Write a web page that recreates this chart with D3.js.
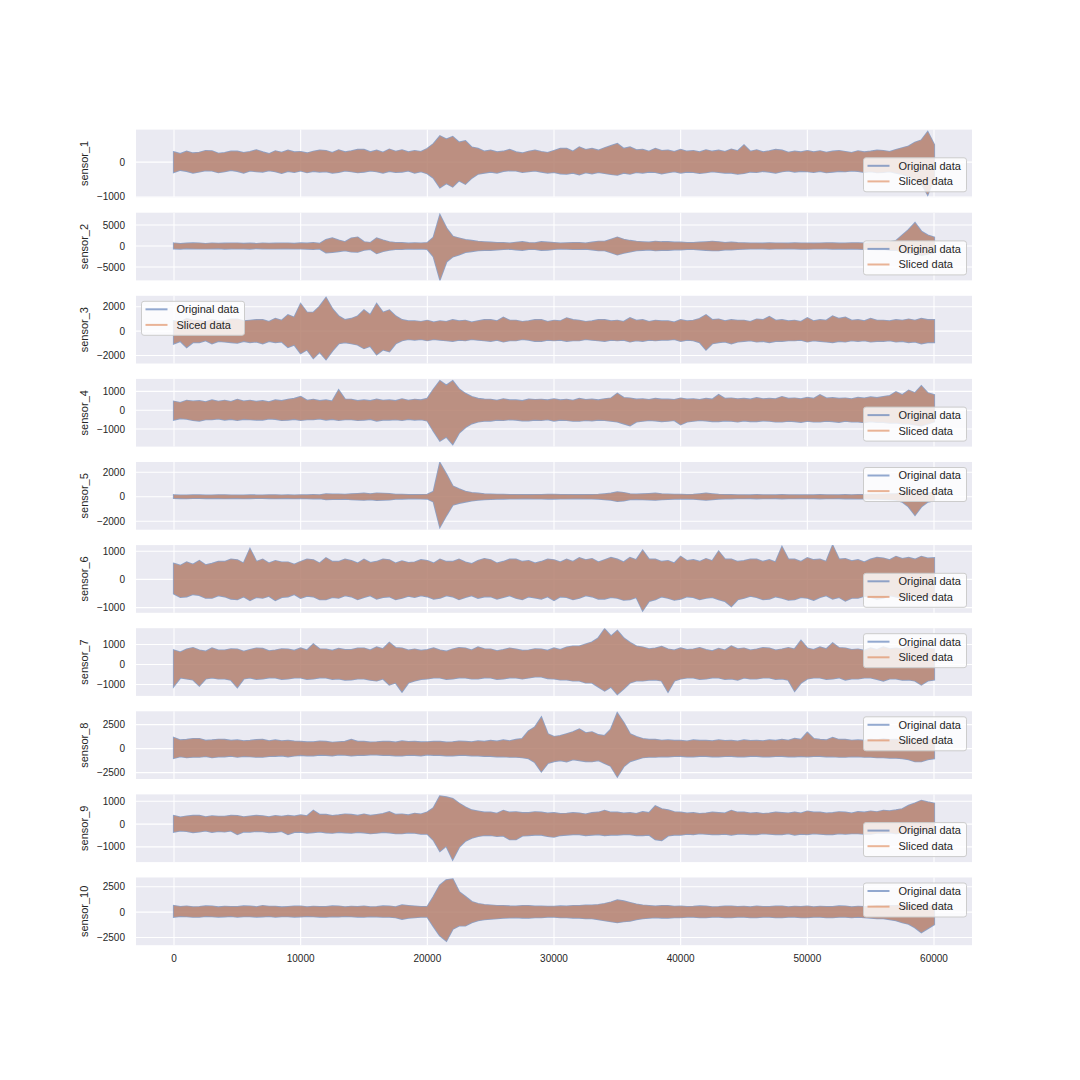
<!DOCTYPE html>
<html>
<head>
<meta charset="utf-8">
<script src="https://cdn.jsdelivr.net/npm/d3@7/dist/d3.min.js"></script>
<style>
  body { margin: 0; background: #fff; }
  text { font-family: "Liberation Sans", Arial, sans-serif; fill: #262626; }
</style>
</head>
<body>
<div id="chart"></div>
<script>
// sample positions (every 500 samples)
var samples = [0,500,1000,1500,2000,2500,3000,3500,4000,4500, 5000,5500,6000,6500,7000,7500,8000,8500,9000,9500,
  10000,10500,11000,11500,12000,12500,13000,13500,14000,14500, 15000,15500,16000,16500,17000,17500,18000,18500,19000,19500,
  20000,20500,21000,21500,22000,22500,23000,23500,24000,24500, 25000,25500,26000,26500,27000,27500,28000,28500,29000,29500,
  30000,30500,31000,31500,32000,32500,33000,33500,34000,34500, 35000,35500,36000,36500,37000,37500,38000,38500,39000,39500,
  40000,40500,41000,41500,42000,42500,43000,43500,44000,44500, 45000,45500,46000,46500,47000,47500,48000,48500,49000,49500,
  50000,50500,51000,51500,52000,52500,53000,53500,54000,54500, 55000,55500,56000,56500,57000,57500,58000,58500,59000,59500,
  60000];

var sensorNames = ["sensor_1","sensor_2","sensor_3","sensor_4","sensor_5","sensor_6","sensor_7","sensor_8","sensor_9","sensor_10"];
var xTicks = [0,10000,20000,30000,40000,50000,60000];
var yTicks = [[-1000,0],[-5000,0,5000],[-2000,0,2000],[-1000,0,1000],[-2000,0,2000],
  [-1000,0,1000],[-1000,0,1000],[-2500,0,2500],[-1000,0,1000],[-2500,0,2500]];
var yLow  = [-1010,-8190,-2660,-1936,-2694,-1184,-1570,-3167,-1667,-3261];
var yHigh = [935,7930,2900,1665,2833,1216,1815,3885,1302,3409];
var legendSpots = ["lower right","lower right","upper left","lower right","upper right",
  "lower right","upper right","upper right","lower right","upper right"];

// envelope of each trace (max / min around each sample position)
var s1Max = [280,230,300,250,270,320,310,240,260,300, 300,260,290,340,280,230,310,270,330,280,
  290,250,300,330,320,260,340,280,310,350, 350,280,330,270,360,300,340,280,320,290,
  380,520,740,650,720,560,600,420,380,300, 330,280,300,350,280,250,300,330,290,260,
  320,380,380,300,420,350,380,330,400,460, 520,380,420,340,350,300,380,320,330,290,
  350,300,320,280,340,300,330,290,360,310, 480,300,340,280,310,350,330,270,300,280,
  320,280,310,270,300,320,290,260,310,280, 300,330,320,290,350,400,450,560,620,860, 500];
var s1Min = [-280,-220,-250,-300,-270,-230,-240,-290,-260,-220, -250,-300,-240,-260,-270,-230,-260,-310,-250,-280,
  -240,-290,-250,-270,-260,-300,-280,-240,-260,-290, -270,-240,-260,-300,-250,-280,-270,-240,-300,-260,
  -320,-450,-720,-600,-700,-520,-620,-450,-330,-300, -270,-300,-250,-230,-240,-280,-260,-240,-270,-300,
  -280,-320,-330,-300,-350,-290,-320,-280,-310,-340, -360,-300,-330,-280,-300,-270,-280,-320,-290,-260,
  -300,-270,-280,-310,-290,-260,-280,-300,-300,-330, -310,-270,-280,-250,-270,-300,-260,-240,-270,-250,
  -260,-280,-250,-290,-270,-250,-260,-240,-250,-280, -260,-290,-280,-260,-300,-340,-400,-520,-600,-920, -450];

var s2Max = [600,450,550,620,600,480,580,520,550,600, 600,500,550,480,600,520,550,600,580,500,
  620,550,700,500,1400,1800,1300,900,1800,2000, 900,700,1800,1300,900,700,700,550,650,600,
  700,2000,7200,4200,2200,1800,1400,1200,1000,900, 800,700,700,600,750,900,700,650,900,800,
  700,600,650,700,700,600,800,1000,1000,1500, 2000,1500,1200,1000,900,800,1000,900,900,800,
  800,700,700,800,900,1000,900,700,800,700, 650,600,600,550,650,600,600,550,650,600,
  600,550,600,650,650,550,600,650,650,600, 700,750,800,900,1200,2500,3800,5400,3400,2500, 2000];
var s2Min = [-550,-600,-500,-550,-600,-580,-550,-500,-600,-550, -580,-550,-600,-500,-550,-600,-600,-550,-550,-600,
  -600,-650,-700,-600,-1500,-1400,-1200,-1000,-1300,-1350, -900,-700,-1700,-1200,-900,-700,-700,-600,-650,-600,
  -700,-2500,-7800,-3700,-2500,-2000,-1400,-1200,-1000,-900, -900,-800,-700,-650,-800,-900,-700,-700,-900,-850,
  -700,-600,-650,-700,-700,-650,-800,-1000,-1000,-1500, -2000,-1600,-1300,-1000,-900,-800,-1000,-900,-900,-800,
  -800,-700,-700,-800,-900,-1000,-1000,-800,-800,-700, -650,-600,-600,-550,-650,-600,-600,-550,-600,-650,
  -650,-600,-600,-550,-650,-600,-650,-600,-650,-700, -700,-750,-700,-900,-900,-1300,-1700,-1500,-2100,-1800, -1500];

var s3Max = [800,700,1000,850,850,750,900,800,800,950, 950,800,850,900,900,750,1000,850,1300,1100,
  2200,1500,1500,2000,2700,1800,1200,900,1000,1200, 1700,1300,2200,1500,1700,1200,900,800,800,750,
  850,700,800,750,900,800,850,700,800,900, 900,800,1100,850,850,750,800,900,900,750,
  850,800,1050,900,850,750,800,900,900,800, 850,750,1050,850,900,750,850,800,800,700,
  900,800,850,1000,1300,900,950,800,900,850, 850,750,950,900,1150,850,900,800,850,750,
  1050,800,900,850,1200,1000,1100,850,900,800, 1000,850,850,800,900,850,950,850,1000,900, 900];
var s3Min = [-1000,-800,-1300,-900,-900,-750,-1000,-800,-850,-900, -950,-800,-900,-850,-1000,-800,-900,-850,-1300,-1100,
  -1800,-1500,-2200,-1700,-2300,-1600,-1000,-900,-1000,-1100, -1400,-1200,-1900,-1500,-1650,-1000,-750,-650,-700,-650,
  -750,-650,-700,-750,-800,-700,-750,-650,-700,-750, -800,-700,-850,-750,-750,-650,-700,-800,-800,-700,
  -750,-700,-800,-750,-750,-650,-700,-750,-800,-700, -750,-700,-850,-750,-800,-700,-750,-700,-700,-650,
  -800,-700,-750,-900,-1500,-1000,-900,-850,-1000,-850, -800,-750,-850,-800,-900,-800,-800,-750,-750,-700,
  -850,-750,-800,-850,-900,-800,-850,-750,-800,-750, -850,-800,-800,-750,-850,-800,-900,-850,-1000,-900, -900];

var s4Max = [450,380,500,460,480,420,520,450,500,430, 550,460,500,440,480,420,520,480,550,600,
  700,500,550,480,520,460,1040,560,550,480, 520,480,560,500,520,480,580,500,550,520,
  600,1100,1540,1300,1540,1100,870,700,600,560, 550,500,580,520,520,480,560,540,550,520,
  580,520,550,500,600,540,560,520,580,620, 870,650,620,560,580,540,600,560,560,540,
  620,560,580,540,600,560,800,600,620,580, 600,560,640,580,600,580,700,600,620,580,
  650,600,800,620,640,600,620,580,650,620, 680,640,700,750,950,800,1040,900,1270,900, 800];
var s4Min = [-500,-420,-450,-520,-550,-480,-480,-440,-500,-460, -520,-460,-480,-500,-500,-440,-460,-520,-500,-460,
  -520,-480,-480,-440,-500,-460,-520,-480,-480,-520, -500,-460,-550,-500,-500,-480,-520,-460,-500,-480,
  -550,-1100,-1610,-1400,-1790,-1200,-900,-700,-600,-560, -550,-500,-520,-480,-500,-540,-540,-500,-520,-480,
  -550,-500,-520,-560,-560,-520,-540,-500,-520,-560, -600,-700,-800,-600,-560,-520,-540,-580,-560,-520,
  -750,-600,-560,-520,-540,-580,-580,-540,-560,-600, -540,-580,-580,-540,-560,-600,-600,-560,-580,-620,
  -560,-600,-600,-560,-580,-620,-560,-600,-600,-640, -580,-620,-620,-660,-650,-700,-700,-760,-810,-700, -600];

var s5Max = [120,90,100,110,110,90,100,120,120,100, 100,90,110,100,100,120,120,100,110,100,
  120,110,130,120,200,180,180,150,200,220, 250,200,260,240,220,150,150,130,130,140,
  150,400,2700,1800,840,600,400,300,250,200, 180,160,150,140,140,130,130,140,140,150,
  150,140,140,130,130,140,140,160,200,250, 350,300,200,180,200,220,250,200,180,160,
  150,140,160,200,250,200,150,140,130,120, 120,110,130,120,120,110,130,120,120,110,
  120,110,130,120,120,110,130,120,140,130, 150,160,180,200,200,300,570,400,300,300, 300];
var s5Min = [-100,-110,-120,-100,-100,-110,-110,-100,-120,-110, -100,-120,-110,-100,-100,-110,-120,-110,-100,-120,
  -110,-120,-130,-120,-200,-180,-180,-160,-200,-230, -250,-200,-260,-240,-220,-160,-150,-130,-130,-140,
  -150,-400,-2420,-1500,-650,-500,-400,-300,-250,-200, -180,-160,-150,-140,-140,-130,-130,-140,-140,-150,
  -150,-140,-140,-130,-130,-140,-140,-160,-200,-250, -350,-300,-200,-180,-200,-220,-250,-200,-180,-160,
  -150,-140,-160,-200,-250,-200,-150,-140,-130,-120, -120,-110,-130,-120,-120,-110,-130,-120,-120,-110,
  -120,-110,-130,-120,-120,-110,-130,-120,-140,-130, -150,-160,-180,-200,-250,-400,-800,-1470,-790,-400, -300];

var s6Max = [550,480,600,520,650,500,550,620,620,700, 680,560,1060,620,700,560,650,600,600,520,
  620,700,680,560,750,620,620,700,650,560, 700,580,620,700,680,560,640,580,600,680,
  650,560,700,620,620,700,600,540,650,720, 680,560,620,700,700,620,650,560,620,700,
  680,600,700,620,750,680,720,600,680,760, 700,600,760,680,1010,700,700,620,650,560,
  800,650,680,620,720,640,980,700,700,620, 650,700,700,620,680,600,1130,700,700,620,
  750,680,700,620,1180,700,720,640,680,600, 700,760,740,680,800,720,760,700,800,740, 750];
var s6Min = [-500,-620,-600,-520,-550,-650,-650,-560,-600,-680, -700,-600,-730,-620,-650,-580,-730,-620,-600,-520,
  -650,-580,-600,-700,-700,-620,-650,-560,-600,-700, -620,-560,-680,-620,-600,-700,-650,-580,-620,-560,
  -600,-680,-650,-560,-600,-700,-620,-560,-650,-600, -600,-680,-620,-560,-650,-700,-600,-640,-680,-600,
  -730,-600,-620,-700,-650,-560,-600,-680,-680,-620, -650,-720,-700,-620,-1090,-760,-700,-600,-650,-720,
  -680,-600,-620,-700,-650,-620,-700,-760,-945,-700, -650,-580,-620,-700,-680,-600,-650,-720,-700,-620,
  -650,-720,-620,-560,-680,-620,-750,-650,-650,-580, -620,-680,-650,-560,-600,-650,-620,-560,-600,-640, -600];

var s7Max = [700,600,750,820,700,640,800,700,700,760, 750,640,720,800,780,660,700,760,750,680,
  800,700,1000,760,750,680,780,720,720,800, 800,700,850,760,1080,820,800,700,750,680,
  720,800,700,640,750,820,800,700,850,760, 750,660,720,800,750,680,700,760,750,680,
  800,720,850,900,900,1000,1100,1300,1750,1400, 1670,1300,1080,900,850,760,800,880,750,700,
  800,720,750,820,720,660,780,700,900,760, 800,700,750,820,800,700,750,820,750,1170,
  800,720,850,760,1050,820,800,720,750,680, 800,720,850,760,800,740,920,800,850,780, 750];
var s7Min = [-1050,-650,-700,-750,-1050,-700,-650,-700,-700,-760, -1130,-700,-650,-720,-700,-640,-650,-720,-700,-650,
  -650,-720,-700,-640,-650,-720,-700,-760,-750,-700, -700,-760,-800,-700,-1000,-900,-1340,-900,-800,-720,
  -700,-650,-650,-720,-700,-640,-650,-700,-700,-640, -650,-720,-700,-640,-650,-700,-650,-600,-600,-680,
  -700,-750,-750,-800,-800,-900,-900,-1100,-1300,-1100, -1470,-1200,-900,-800,-800,-760,-750,-800,-1340,-800,
  -700,-650,-650,-720,-700,-640,-650,-720,-700,-760, -650,-700,-700,-650,-650,-720,-700,-760,-1300,-900,
  -700,-650,-650,-720,-700,-640,-750,-700,-700,-650, -650,-720,-800,-700,-700,-760,-750,-800,-1000,-800, -750];

var s8Max = [1100,850,900,1000,1000,800,850,920,900,800, 850,760,800,880,900,760,850,760,800,720,
  700,640,650,720,700,600,650,700,900,700, 700,620,650,700,700,620,750,680,700,640,
  650,700,700,620,650,720,700,650,750,700, 800,720,850,760,900,1000,1800,2200,3190,1500,
  1200,1300,1500,1700,1980,1600,1700,1400,1300,2000, 3640,2670,1500,1200,1000,900,900,820,850,800,
  800,740,850,800,800,760,850,780,800,740, 850,780,800,760,850,800,900,820,1000,900,
  1630,1000,900,850,1100,900,900,820,850,800, 900,850,950,880,900,820,1000,900,950,900, 900];
var s8Min = [-970,-800,-900,-850,-850,-760,-900,-820,-800,-740, -850,-760,-800,-850,-850,-760,-750,-700,-800,-720,
  -650,-700,-700,-620,-650,-700,-600,-640,-700,-650, -650,-600,-600,-650,-650,-700,-700,-640,-650,-700,
  -600,-650,-650,-700,-700,-650,-650,-700,-700,-750, -750,-800,-800,-850,-850,-900,-1000,-1400,-2360,-1500,
  -1300,-1200,-1320,-1100,-1200,-1300,-1320,-1200,-1490,-1800, -2880,-1840,-1300,-1100,-900,-850,-850,-800,-800,-760,
  -750,-800,-800,-750,-750,-800,-800,-760,-750,-800, -800,-750,-750,-800,-800,-760,-750,-800,-800,-760,
  -800,-760,-750,-800,-800,-850,-850,-800,-800,-850, -850,-900,-900,-950,-950,-1000,-1100,-1320,-1320,-1100, -1000];

var s9Max = [350,290,330,360,360,300,340,320,320,360, 350,300,330,360,340,300,350,320,360,330,
  380,340,580,400,400,350,380,420,400,360, 420,360,400,440,520,400,420,380,450,420,
  510,700,1210,1170,1100,900,730,600,550,500, 500,450,580,500,520,480,480,520,500,460,
  480,440,450,480,460,420,480,500,580,500, 500,460,480,440,520,480,775,650,600,520,
  500,460,480,440,460,500,480,460,580,500, 500,460,480,440,460,500,480,460,500,460,
  550,500,500,460,480,520,500,460,520,500, 550,520,580,560,600,650,800,900,1020,950, 900];
var s9Min = [-330,-280,-300,-350,-320,-280,-340,-300,-320,-280, -440,-320,-330,-300,-310,-350,-340,-300,-440,-340,
  -330,-380,-350,-320,-360,-380,-340,-360,-380,-340, -360,-400,-380,-340,-360,-400,-400,-360,-380,-420,
  -420,-700,-1170,-950,-1530,-1000,-730,-600,-520,-480, -480,-520,-500,-660,-660,-500,-480,-460,-460,-520,
  -550,-480,-460,-440,-440,-480,-460,-440,-480,-460, -460,-440,-440,-480,-480,-460,-660,-700,-500,-460,
  -460,-420,-440,-400,-420,-440,-440,-420,-460,-420, -420,-440,-440,-400,-420,-440,-440,-400,-460,-420,
  -440,-400,-420,-440,-440,-400,-420,-400,-400,-420, -420,-380,-380,-360,-400,-360,-380,-340,-300,-280, -250];

var s10Max = [600,500,550,480,500,560,550,460,520,500, 500,560,550,480,600,520,520,460,500,540,
  550,480,520,500,500,560,550,480,520,500, 550,480,500,560,550,480,660,600,550,500,
  500,1500,2630,3130,3220,1970,1500,1000,800,700, 650,600,600,560,550,600,600,540,550,520,
  520,560,550,600,600,650,650,700,800,950, 1150,1050,900,750,650,600,550,600,600,520,
  550,500,520,560,550,480,500,540,550,500, 520,480,550,500,500,540,550,480,520,500,
  550,480,520,500,500,560,550,480,520,500, 500,560,550,600,600,650,650,600,600,560, 550];
var s10Min = [-450,-380,-400,-460,-450,-380,-400,-440,-420,-380, -450,-400,-400,-440,-420,-380,-450,-400,-400,-440,
  -420,-380,-400,-440,-450,-400,-420,-380,-400,-440, -450,-400,-420,-460,-450,-500,-660,-550,-500,-460,
  -450,-1400,-2300,-2800,-1650,-1320,-1320,-1000,-800,-700, -650,-600,-550,-520,-500,-540,-550,-500,-500,-460,
  -450,-500,-500,-540,-550,-600,-600,-700,-800,-900, -990,-900,-850,-700,-600,-550,-500,-540,-550,-500,
  -500,-460,-450,-500,-500,-460,-450,-500,-500,-460, -450,-500,-500,-460,-450,-500,-500,-460,-450,-500,
  -500,-460,-450,-500,-500,-460,-450,-500,-450,-500, -550,-600,-600,-700,-800,-1000,-1150,-1500,-1970,-1600, -1200];

var sensorMax = [s1Max,s2Max,s3Max,s4Max,s5Max,s6Max,s7Max,s8Max,s9Max,s10Max];
var sensorMin = [s1Min,s2Min,s3Min,s4Min,s5Min,s6Min,s7Min,s8Min,s9Min,s10Min];

var blue = "#4c72b0", orange = "#dd8452";
var left = 136, right = 972, top0 = 129.6, step = 83.1, panelH = 67.7;

var svg = d3.select("#chart")
	.append("svg")
	.attr("width", 1080)
	.attr("height", 1080);

var x = d3.scaleLinear().domain([-3000, 63000]).range([left, right]);
var fmt = d3.format("d");

sensorNames.forEach(function(name, i){
	var t = top0 + i * step;
	var y = d3.scaleLinear().domain([yLow[i], yHigh[i]]).range([t + panelH, t]);
	var g = svg.append("g");

	g.append("clipPath").attr("id", "clip" + i)
		.append("rect")
		.attr("x", left).attr("y", t)
		.attr("width", right - left).attr("height", panelH);

	g.append("rect")
		.attr("x", left).attr("y", t)
		.attr("width", right - left).attr("height", panelH)
		.attr("fill", "#eaeaf2");

	g.selectAll(".vgrid")
		.data(xTicks)
		.enter()
		.append("line")
		.attr("x1", function(d){ return x(d) })
		.attr("x2", function(d){ return x(d) })
		.attr("y1", t).attr("y2", t + panelH)
		.attr("stroke", "#fff").attr("stroke-width", 1.1);

	g.selectAll(".hgrid")
		.data(yTicks[i])
		.enter()
		.append("line")
		.attr("x1", left).attr("x2", right)
		.attr("y1", function(d){ return y(d) })
		.attr("y2", function(d){ return y(d) })
		.attr("stroke", "#fff").attr("stroke-width", 1.1);

	g.selectAll(".ytick")
		.data(yTicks[i])
		.enter()
		.append("text")
		.attr("x", 125)
		.attr("y", function(d){ return y(d) })
		.attr("dy", "0.35em")
		.attr("text-anchor", "end")
		.attr("font-size", 10)
		.text(function(d){ return fmt(d) });

	g.append("text")
		.attr("transform", "translate(88," + (t + panelH / 2) + ") rotate(-90)")
		.attr("text-anchor", "middle")
		.attr("font-size", 11)
		.text(name);

	var mx = sensorMax[i], mn = sensorMin[i];
	var area = d3.area()
		.x(function(d, j){ return x(samples[j]) })
		.y0(function(d, j){ return y(mn[j]) })
		.y1(function(d){ return y(d) });

	var traces = g.append("g").attr("clip-path", "url(#clip" + i + ")");
	traces.append("path")
		.datum(mx)
		.attr("d", area)
		.attr("fill", blue).attr("stroke", blue)
		.attr("stroke-width", 2.2)
		.attr("opacity", 0.6);
	traces.append("path")
		.datum(mx)
		.attr("d", area)
		.attr("fill", orange).attr("stroke", orange)
		.attr("stroke-width", 0.6)
		.attr("opacity", 0.6);

	// legend
	var lw = 103, lh = 34, pad = 5.5;
	var lx = legendSpots[i].indexOf("left") >= 0 ? left + pad : right - pad - lw;
	var ly = legendSpots[i].indexOf("upper") >= 0 ? t + pad : t + panelH - pad - lh;
	var leg = g.append("g").attr("transform", "translate(" + lx + "," + ly + ")");
	leg.append("rect")
		.attr("width", lw).attr("height", lh)
		.attr("rx", 2.5)
		.attr("fill", "#fff").attr("fill-opacity", 0.8)
		.attr("stroke", "#cccccc").attr("stroke-width", 1);
	var entries = [{label: "Original data", color: blue}, {label: "Sliced data", color: orange}];
	leg.selectAll(".hl")
		.data(entries)
		.enter()
		.append("line")
		.attr("x1", 4).attr("x2", 26)
		.attr("y1", function(d, k){ return 8 + k * 15.6 })
		.attr("y2", function(d, k){ return 8 + k * 15.6 })
		.attr("stroke", function(d){ return d.color })
		.attr("stroke-opacity", 0.6)
		.attr("stroke-width", 2);
	leg.selectAll(".lt")
		.data(entries)
		.enter()
		.append("text")
		.attr("x", 35)
		.attr("y", function(d, k){ return 8 + k * 15.6 })
		.attr("dy", "0.35em")
		.attr("font-size", 11)
		.text(function(d){ return d.label });

	if (i == sensorNames.length - 1) {
		g.selectAll(".xtick")
			.data(xTicks)
			.enter()
			.append("text")
			.attr("x", function(d){ return x(d) })
			.attr("y", t + panelH + 17)
			.attr("text-anchor", "middle")
			.attr("font-size", 10)
			.text(function(d){ return fmt(d) });
	}
});
</script>
</body>
</html>
